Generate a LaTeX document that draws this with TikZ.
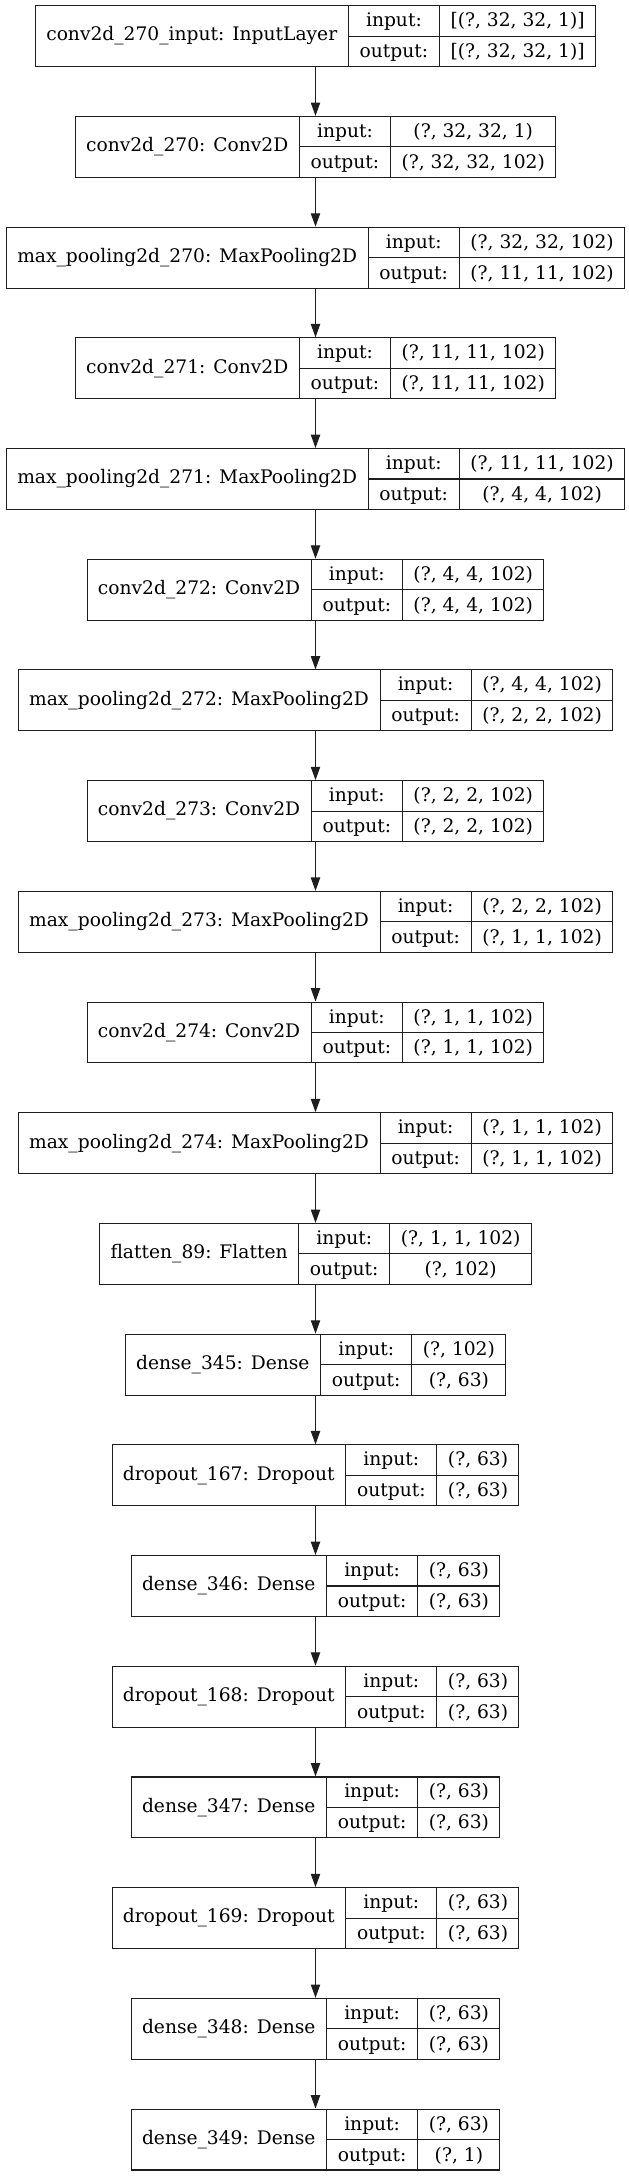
\documentclass[tikz,border=0pt]{standalone}
\usepackage{fontspec}
\usepackage{colortbl}
\setmainfont{DejaVu Serif}
\usetikzlibrary{arrows.meta,positioning}
\definecolor{edge}{RGB}{30,30,30}
\setlength{\arrayrulewidth}{0.8pt}
\arrayrulecolor{edge}
% one keras layer: name | input/output table
\newcommand{\layertab}[3]{%
  \renewcommand{\arraystretch}{1.32}%
  \begin{tabular}{@{\hspace{8pt}}c@{\hspace{8pt}}|@{}c@{}}
    #1 &
    \begin{tabular}{@{\hspace{8pt}}c@{\hspace{8pt}}|@{\hspace{8pt}}c@{\hspace{8pt}}}
      input: & #2 \\ \hline
      output: & #3
    \end{tabular}
  \end{tabular}}
\tikzset{
  layer/.style={draw=edge,line width=0.8pt,inner sep=0pt,
    font=\fontsize{14pt}{17pt}\selectfont},
  flow/.style={draw=edge,line width=0.8pt,-{Triangle[length=10pt,width=7pt]}}
}
\begin{document}
\begin{tikzpicture}[x=0.75pt,y=-0.75pt]
  \useasboundingbox (0,0) rectangle (628,2176);
  \node[layer] (l1) at (315.5,36.2) {\layertab{conv2d\_270\_input: InputLayer}{[(?, 32, 32, 1)]}{[(?, 32, 32, 1)]}};
  \node[layer] (l2) at (315.5,146.9) {\layertab{conv2d\_270: Conv2D}{(?, 32, 32, 1)}{(?, 32, 32, 102)}};
  \node[layer] (l3) at (315.5,257.6) {\layertab{max\_pooling2d\_270: MaxPooling2D}{(?, 32, 32, 102)}{(?, 11, 11, 102)}};
  \node[layer] (l4) at (315.5,368.3) {\layertab{conv2d\_271: Conv2D}{(?, 11, 11, 102)}{(?, 11, 11, 102)}};
  \node[layer] (l5) at (315.5,479.0) {\layertab{max\_pooling2d\_271: MaxPooling2D}{(?, 11, 11, 102)}{(?, 4, 4, 102)}};
  \node[layer] (l6) at (315.5,589.7) {\layertab{conv2d\_272: Conv2D}{(?, 4, 4, 102)}{(?, 4, 4, 102)}};
  \node[layer] (l7) at (315.5,700.4) {\layertab{max\_pooling2d\_272: MaxPooling2D}{(?, 4, 4, 102)}{(?, 2, 2, 102)}};
  \node[layer] (l8) at (315.5,811.1) {\layertab{conv2d\_273: Conv2D}{(?, 2, 2, 102)}{(?, 2, 2, 102)}};
  \node[layer] (l9) at (315.5,921.8) {\layertab{max\_pooling2d\_273: MaxPooling2D}{(?, 2, 2, 102)}{(?, 1, 1, 102)}};
  \node[layer] (l10) at (315.5,1032.5) {\layertab{conv2d\_274: Conv2D}{(?, 1, 1, 102)}{(?, 1, 1, 102)}};
  \node[layer] (l11) at (315.5,1143.2) {\layertab{max\_pooling2d\_274: MaxPooling2D}{(?, 1, 1, 102)}{(?, 1, 1, 102)}};
  \node[layer] (l12) at (315.5,1253.9) {\layertab{flatten\_89: Flatten}{(?, 1, 1, 102)}{(?, 102)}};
  \node[layer] (l13) at (315.5,1364.6) {\layertab{dense\_345: Dense}{(?, 102)}{(?, 63)}};
  \node[layer] (l14) at (315.5,1475.3) {\layertab{dropout\_167: Dropout}{(?, 63)}{(?, 63)}};
  \node[layer] (l15) at (315.5,1586.0) {\layertab{dense\_346: Dense}{(?, 63)}{(?, 63)}};
  \node[layer] (l16) at (315.5,1696.7) {\layertab{dropout\_168: Dropout}{(?, 63)}{(?, 63)}};
  \node[layer] (l17) at (315.5,1807.4) {\layertab{dense\_347: Dense}{(?, 63)}{(?, 63)}};
  \node[layer] (l18) at (315.5,1918.1) {\layertab{dropout\_169: Dropout}{(?, 63)}{(?, 63)}};
  \node[layer] (l19) at (315.5,2028.8) {\layertab{dense\_348: Dense}{(?, 63)}{(?, 63)}};
  \node[layer] (l20) at (315.5,2139.5) {\layertab{dense\_349: Dense}{(?, 63)}{(?, 1)}};
  % connectors
  \foreach \i [count=\j from 2] in {1,...,19}
    \draw[flow] (l\i.south) -- (l\j.north);
\end{tikzpicture}
\end{document}
